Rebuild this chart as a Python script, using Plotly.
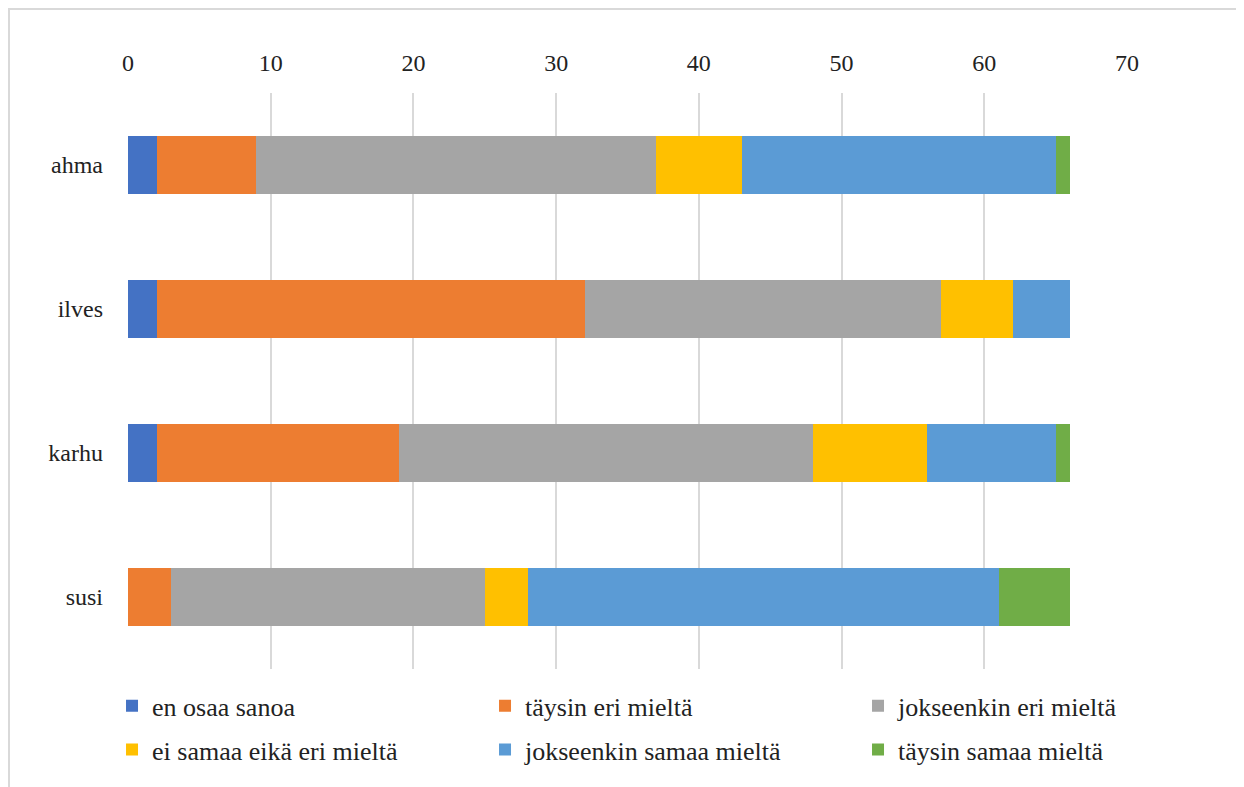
import plotly.graph_objects as go

# categories (top to bottom) and answer series
animals = ["ahma", "ilves", "karhu", "susi"]
en_osaa_sanoa = [2, 2, 2, 0]
taysin_eri = [7, 30, 17, 3]
jokseenkin_eri = [28, 25, 29, 22]
ei_samaa_eika_eri = [6, 5, 8, 3]
jokseenkin_samaa = [22, 4, 9, 33]
taysin_samaa = [1, 0, 1, 5]

series = [
    ("en osaa sanoa", en_osaa_sanoa, "#4472C4", "legend"),
    ("täysin eri mieltä", taysin_eri, "#ED7D31", "legend"),
    ("jokseenkin eri mieltä", jokseenkin_eri, "#A5A5A5", "legend"),
    ("ei samaa eikä eri mieltä", ei_samaa_eika_eri, "#FFC000", "legend2"),
    ("jokseenkin samaa mieltä", jokseenkin_samaa, "#5B9BD5", "legend2"),
    ("täysin samaa mieltä", taysin_samaa, "#70AD47", "legend2"),
]

font = dict(family="Liberation Serif", size=24, color="#222222")
legend_font = dict(family="Liberation Serif", size=26, color="#222222")

fig = go.Figure()
for name, vals, col, leg in series:
    fig.add_trace(go.Bar(y=animals, x=vals, name=name, orientation="h",
                         marker=dict(color=col, line=dict(width=0)),
                         legend=leg))

legend_common = dict(orientation="h", xanchor="left", yanchor="middle",
                     entrywidth=328, entrywidthmode="pixels",
                     font=legend_font, bgcolor="rgba(0,0,0,0)",
                     traceorder="normal", itemclick=False)

# page has an 8px body margin, so the figure is a bit smaller than the window
fig.update_layout(
    width=1236, height=779,
    margin=dict(l=120, r=117, t=85, b=118),
    barmode="stack", bargap=0.6,
    plot_bgcolor="white", paper_bgcolor="white",
    font=font,
    legend=dict(x=-0.016, y=-0.064, **legend_common),
    legend2=dict(x=-0.016, y=-0.140, **legend_common),
    xaxis=dict(side="top", range=[0, 70], dtick=10, showgrid=True,
               gridcolor="#d9d9d9", gridwidth=1.5, zeroline=False,
               showline=False, ticks="", ticklabelstandoff=16,
               tickfont=font),
    yaxis=dict(autorange="reversed", showgrid=False, showline=False,
               ticks="", ticklabelstandoff=24, tickfont=font),
)

# light grey frame around the chart
fig.add_shape(type="rect", xref="paper", yref="paper",
              x0=-0.1191, x1=1.1101, y0=-0.3, y1=1.1459,
              line=dict(color="#d9d9d9", width=2), layer="below")

fig.write_html("out.html")
